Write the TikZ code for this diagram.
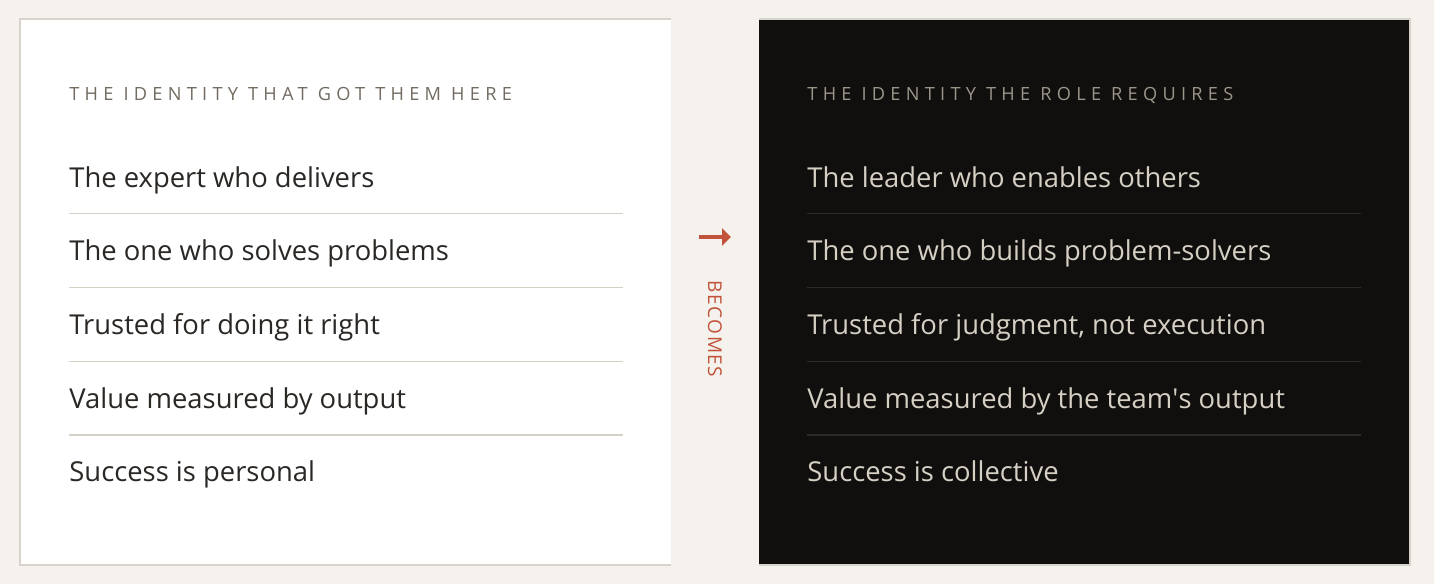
\documentclass[tikz,border=0pt]{standalone}
\usepackage{fontspec}
\setmainfont{Open Sans}
\newfontfamily\capsfont[LetterSpace=29]{Open Sans}
\newfontfamily\sidefont[LetterSpace=8]{Open Sans}
\usetikzlibrary{arrows.meta}
\definecolor{paper}{HTML}{F5F2ED}
\definecolor{rim}{HTML}{D8D3CA}
\definecolor{ink}{HTML}{100F0D}
\definecolor{darktext}{HTML}{2A2724}
\definecolor{lighttext}{HTML}{D5CFC4}
\definecolor{lefthead}{HTML}{726B61}
\definecolor{righthead}{HTML}{9C958A}
\definecolor{leftrule}{HTML}{D6D1C6}
\definecolor{rightrule}{HTML}{2C2A26}
\definecolor{accent}{HTML}{C0533A}

\begin{document}
\begin{tikzpicture}[x=0.5pt,y=-0.5pt,
    item/.style={anchor=base west,inner sep=0pt,font=\fontsize{13.7}{16}\selectfont},
    head/.style={anchor=base west,inner sep=0pt,font=\capsfont\fontsize{9.1}{11}\selectfont}]

    % page and panels
    \fill[paper] (0,0) rectangle (1434,584);
    \fill[white] (19,18) rectangle (671,566);
    \draw[rim,line width=1pt] (671,19) -- (20,19) -- (20,565) -- (671,565);
    \fill[ink] (759,18) rectangle (1411,566);
    \draw[rim,line width=1pt] (759,19) -- (1410,19) -- (1410,565) -- (759,565);

    % left panel
    \node[head,text=lefthead] (lh) at (69,100) {THE IDENTITY THAT GOT THEM HERE};
    \node[item,text=darktext] (l1) at (69,187) {The expert who delivers};
    \node[item,text=darktext] (l2) at (69,260) {The one who solves problems};
    \node[item,text=darktext] (l3) at (69,334) {Trusted for doing it right};
    \node[item,text=darktext] (l4) at (69,408) {Value measured by output};
    \node[item,text=darktext] (l5) at (69,481) {Success is personal};
    \draw[leftrule,line width=0.75pt] (69,213.5) -- (623,213.5);
    \draw[leftrule,line width=0.75pt] (69,287.5) -- (623,287.5);
    \draw[leftrule,line width=0.75pt] (69,361.5) -- (623,361.5);
    \draw[leftrule,line width=0.75pt] (69,435) -- (623,435);

    % right panel
    \node[head,text=righthead] (rh) at (807,100) {THE IDENTITY THE ROLE REQUIRES};
    \node[item,text=lighttext] (r1) at (807,187) {The leader who enables others};
    \node[item,text=lighttext] (r2) at (807,260) {The one who builds problem-solvers};
    \node[item,text=lighttext] (r3) at (807,334) {Trusted for judgment, not execution};
    \node[item,text=lighttext] (r4) at (807,408) {Value measured by the team\textquotesingle s output};
    \node[item,text=lighttext] (r5) at (807,481) {Success is collective};
    \draw[rightrule,line width=0.75pt] (807,213.5) -- (1361,213.5);
    \draw[rightrule,line width=0.75pt] (807,287.5) -- (1361,287.5);
    \draw[rightrule,line width=0.75pt] (807,361.5) -- (1361,361.5);
    \draw[rightrule,line width=0.75pt] (807,435) -- (1361,435);

    % middle
    \coordinate (a1) at (699,237);
    \coordinate (a2) at (731,237);
    \draw[accent,line width=1.6pt,-{Triangle[length=4.5pt,width=8.5pt]}] (a1) -- (a2);
    \node[rotate=-90,inner sep=0pt,text=accent,font=\sidefont\fontsize{9.5}{11}\selectfont] (bc) at (715,329) {BECOMES};
\end{tikzpicture}
\end{document}
